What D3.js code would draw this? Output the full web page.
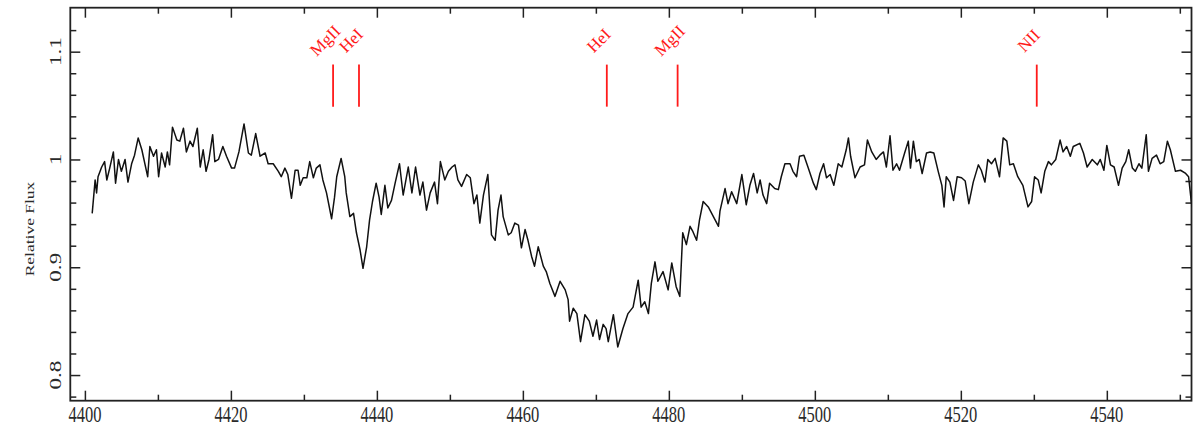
<!DOCTYPE html>
<html>
<head>
<meta charset="utf-8">
<script src="https://cdn.jsdelivr.net/npm/d3@7/dist/d3.min.js"></script>
<style>
body { margin: 0; background: #fff; }
svg text { font-family: "Liberation Serif", "Times New Roman", serif; }
</style>
</head>
<body>
<div id="graph"></div>
<script>
// spectrum (wavelength in Angstrom, relative flux)
const wavelength = [
	4401.0, 4401.4, 4401.6, 4401.8, 4402.3, 4402.7, 4403.0, 4403.4, 4403.9, 4404.2,
	4404.6, 4405.0, 4405.5, 4405.9, 4406.4, 4406.8, 4407.3, 4407.8, 4408.6, 4408.9,
	4409.4, 4409.8, 4410.1, 4410.5, 4411.0, 4411.3, 4411.6, 4412.0, 4412.6, 4413.0,
	4413.5, 4413.9, 4414.4, 4414.8, 4415.4, 4415.8, 4416.2, 4416.6, 4417.0, 4417.5,
	4417.8, 4418.3, 4418.9, 4419.4, 4420.1, 4420.5, 4421.1, 4421.8, 4422.4, 4422.8,
	4423.4, 4424.0, 4424.7, 4425.1, 4425.8, 4426.5, 4426.9, 4427.4, 4427.8, 4428.3,
	4428.8, 4429.2, 4429.5, 4429.9, 4430.4, 4430.8, 4431.3, 4431.7, 4432.2, 4432.6,
	4433.1, 4433.8, 4434.2, 4434.5, 4435.1, 4435.6, 4435.8, 4436.3, 4436.8, 4437.2,
	4437.7, 4438.1, 4438.6, 4439.0, 4439.4, 4439.9, 4440.3, 4440.6, 4441.1, 4441.5,
	4442.0, 4442.5, 4443.1, 4443.6, 4444.3, 4444.8, 4445.3, 4445.9, 4446.3, 4446.8,
	4447.3, 4447.9, 4448.3, 4448.7, 4449.3, 4449.8, 4450.3, 4450.7, 4451.1, 4451.6,
	4452.3, 4452.8, 4453.3, 4453.7, 4454.1, 4454.6, 4455.2, 4455.7, 4456.2, 4456.6,
	4457.0, 4457.3, 4458.0, 4458.4, 4458.9, 4459.4, 4459.8, 4460.3, 4460.7, 4461.2,
	4461.6, 4462.1, 4462.8, 4463.2, 4463.7, 4464.4, 4465.1, 4465.8, 4466.2, 4466.4,
	4466.9, 4467.4, 4467.9, 4468.5, 4469.1, 4469.6, 4470.1, 4470.5, 4471.0, 4471.4,
	4471.7, 4472.4, 4473.0, 4473.7, 4474.4, 4475.1, 4475.8, 4476.2, 4476.7, 4477.2,
	4477.6, 4478.1, 4478.5, 4479.2, 4479.9, 4480.4, 4481.0, 4481.5, 4481.9, 4482.4,
	4482.9, 4483.3, 4483.8, 4484.2, 4484.7, 4485.4, 4486.1, 4486.8, 4487.0, 4487.7,
	4488.1, 4488.6, 4489.3, 4490.0, 4490.6, 4491.1, 4491.6, 4492.1, 4492.5, 4492.9,
	4493.4, 4493.8, 4494.5, 4495.0, 4495.4, 4495.9, 4496.6, 4497.0, 4497.5, 4497.9,
	4498.5, 4499.1, 4499.8, 4500.2, 4500.7, 4501.2, 4501.6, 4502.1, 4502.6, 4503.2,
	4503.7, 4504.3, 4504.6, 4504.9, 4505.5, 4506.2, 4506.8, 4507.2, 4507.8, 4508.4,
	4508.9, 4509.4, 4509.8, 4510.3, 4510.7, 4511.2, 4511.6, 4512.3, 4512.8, 4513.1,
	4513.5, 4513.9, 4514.3, 4514.7, 4515.3, 4515.8, 4516.3, 4516.9, 4517.4, 4517.7,
	4518.0, 4518.5, 4519.0, 4519.5, 4520.1, 4520.6, 4521.1, 4521.7, 4522.4, 4522.8,
	4523.3, 4523.7, 4524.2, 4524.7, 4525.3, 4525.8, 4526.3, 4526.7, 4527.2, 4527.8,
	4528.5, 4529.2, 4529.7, 4530.1, 4530.6, 4531.0, 4531.5, 4532.0, 4532.4, 4533.0,
	4533.6, 4534.0, 4534.5, 4535.0, 4535.4, 4536.3, 4536.8, 4537.3, 4538.0, 4538.7,
	4539.1, 4539.6, 4540.0, 4540.5, 4541.0, 4541.6, 4542.1, 4542.6, 4543.0, 4543.5,
	4543.9, 4544.4, 4544.8, 4545.4, 4545.7, 4546.2, 4546.8, 4547.3, 4547.8, 4548.3,
	4548.7, 4549.4, 4550.1, 4550.8, 4551.2, 4551.6, 4552.2
];
const flux = [
	0.950, 0.981, 0.969, 0.984, 0.993, 0.998, 0.981, 0.992, 1.007, 0.978,
	1.000, 0.989, 1.000, 0.979, 0.996, 1.004, 1.020, 1.009, 0.984, 1.012,
	1.003, 1.009, 0.984, 1.006, 0.993, 1.007, 0.995, 1.030, 1.018, 1.017,
	1.029, 1.007, 1.017, 1.012, 1.029, 0.993, 1.009, 0.989, 1.000, 1.023,
	0.998, 1.000, 1.012, 1.003, 0.992, 0.992, 1.007, 1.033, 1.006, 1.004,
	1.024, 1.003, 1.006, 0.996, 0.996, 0.989, 0.984, 0.992, 0.986, 0.964,
	0.990, 0.990, 0.976, 0.983, 0.983, 0.998, 0.983, 0.992, 0.995, 0.981,
	0.969, 0.945, 0.965, 0.984, 1.001, 0.984, 0.969, 0.947, 0.950, 0.932,
	0.916, 0.899, 0.919, 0.944, 0.961, 0.978, 0.965, 0.949, 0.976, 0.955,
	0.962, 0.978, 0.996, 0.967, 0.993, 0.969, 0.993, 0.967, 0.979, 0.953,
	0.969, 0.979, 0.959, 0.998, 0.981, 0.989, 0.993, 0.995, 0.981, 0.975,
	0.986, 0.983, 0.959, 0.967, 0.941, 0.967, 0.986, 0.930, 0.925, 0.953,
	0.967, 0.947, 0.930, 0.932, 0.941, 0.939, 0.918, 0.935, 0.925, 0.910,
	0.901, 0.919, 0.901, 0.896, 0.885, 0.873, 0.887, 0.879, 0.870, 0.850,
	0.862, 0.857, 0.831, 0.856, 0.850, 0.836, 0.851, 0.833, 0.847, 0.843,
	0.831, 0.856, 0.826, 0.843, 0.857, 0.863, 0.888, 0.863, 0.868, 0.857,
	0.885, 0.905, 0.887, 0.896, 0.879, 0.904, 0.882, 0.873, 0.932, 0.921,
	0.938, 0.933, 0.925, 0.944, 0.961, 0.956, 0.947, 0.938, 0.952, 0.973,
	0.959, 0.970, 0.959, 0.986, 0.958, 0.976, 0.987, 0.969, 0.981, 0.967,
	0.959, 0.978, 0.973, 0.972, 0.984, 0.996, 0.996, 0.989, 0.984, 1.003,
	1.004, 0.992, 0.978, 0.972, 0.987, 0.996, 0.983, 0.986, 0.976, 0.996,
	0.993, 1.009, 1.020, 1.003, 0.983, 0.993, 0.995, 1.018, 1.007, 1.000,
	1.004, 1.007, 0.993, 1.022, 0.990, 0.996, 0.990, 1.006, 1.017, 0.992,
	1.017, 0.998, 1.000, 0.987, 1.006, 1.007, 1.006, 0.989, 0.976, 0.956,
	0.984, 0.979, 0.962, 0.984, 0.983, 0.980, 0.959, 0.979, 0.995, 0.990,
	0.979, 1.000, 0.996, 1.001, 0.984, 1.020, 1.017, 0.995, 0.996, 0.984,
	0.976, 0.956, 0.961, 0.984, 0.981, 0.969, 0.989, 0.998, 0.995, 1.000,
	1.018, 1.007, 1.012, 1.003, 1.012, 1.015, 1.006, 0.993, 1.000, 0.995,
	1.000, 0.990, 1.013, 0.995, 0.993, 0.976, 0.992, 0.998, 1.009, 0.992,
	0.989, 0.996, 0.992, 1.023, 0.989, 1.001, 1.004, 0.996, 0.998, 1.017,
	1.009, 0.989, 0.990, 0.987, 0.984, 0.959, 0.945
];

// identified lines
const lineNames = ["MgII", "HeI", "HeI", "MgII", "NII"];
const lineWaves = [4434.0, 4437.55, 4471.5, 4481.2, 4530.4];
const markTop = 1.088, markBottom = 1.049;

// axis ticks
const xTicks = [4400, 4420, 4440, 4460, 4480, 4500, 4520, 4540];
const xMinor = [4410, 4430, 4450, 4470, 4490, 4510, 4530, 4550];
const yTicks = [0.8, 0.9, 1, 1.1];
const yMinor = [0.78, 0.82, 0.84, 0.86, 0.88, 0.92, 0.94, 0.96, 0.98, 1.02, 1.04, 1.06, 1.08, 1.12];

const width = 1194, height = 429;
const margin = {top: 7.7, right: 2.5, bottom: 28.3, left: 70.3};
const stretch = 1.4; // the figure is taller than wide, text looks squeezed

const data = wavelength.map((w, i) => ({w: w, f: flux[i]}));

const x = d3.scaleLinear()
	.domain([4398, 4551.6])
	.range([margin.left, width - margin.right]);
const y = d3.scaleLinear()
	.domain([0.7762, 1.1408])
	.range([height - margin.bottom, margin.top]);

const svg = d3.select("#graph")
	.append("svg")
	.attr("width", width)
	.attr("height", height)
	.style("display", "block");

svg.append("clipPath")
	.attr("id", "plotClip")
	.append("rect")
	.attr("x", margin.left)
	.attr("y", margin.top)
	.attr("width", width - margin.left - margin.right)
	.attr("height", height - margin.top - margin.bottom);

// ticks (inward on all four sides)
function styleAxis(g) {
	g.select(".domain").remove();
	g.selectAll(".tick line").attr("stroke", "#222").attr("stroke-width", 1.5);
	g.selectAll(".tick text").remove();
}
const bottomY = height - margin.bottom, rightX = width - margin.right;

svg.append("g").attr("transform", `translate(0,${bottomY})`)
	.call(d3.axisBottom(x).tickValues(xTicks).tickSize(-10)).call(styleAxis);
svg.append("g").attr("transform", `translate(0,${bottomY})`)
	.call(d3.axisBottom(x).tickValues(xMinor).tickSize(-6)).call(styleAxis);
svg.append("g").attr("transform", `translate(0,${margin.top})`)
	.call(d3.axisTop(x).tickValues(xTicks).tickSize(-10)).call(styleAxis);
svg.append("g").attr("transform", `translate(0,${margin.top})`)
	.call(d3.axisTop(x).tickValues(xMinor).tickSize(-6)).call(styleAxis);
svg.append("g").attr("transform", `translate(${margin.left},0)`)
	.call(d3.axisLeft(y).tickValues(yTicks).tickSize(-10)).call(styleAxis);
svg.append("g").attr("transform", `translate(${margin.left},0)`)
	.call(d3.axisLeft(y).tickValues(yMinor).tickSize(-6)).call(styleAxis);
svg.append("g").attr("transform", `translate(${rightX},0)`)
	.call(d3.axisRight(y).tickValues(yTicks).tickSize(-10)).call(styleAxis);
svg.append("g").attr("transform", `translate(${rightX},0)`)
	.call(d3.axisRight(y).tickValues(yMinor).tickSize(-6)).call(styleAxis);

// frame
svg.append("rect")
	.attr("x", margin.left)
	.attr("y", margin.top)
	.attr("width", rightX - margin.left)
	.attr("height", bottomY - margin.top)
	.attr("fill", "none")
	.attr("stroke", "#222")
	.attr("stroke-width", 1.8);

// tick labels
svg.selectAll(".xlab")
	.data(xTicks)
	.enter().append("text")
	.attr("class", "xlab")
	.attr("transform", (d) => `translate(${x(d)},${bottomY + 21}) scale(1,${stretch})`)
	.attr("text-anchor", "middle")
	.attr("font-size", 16.5)
	.attr("fill", "#2a2a2a")
	.text((d) => d);

svg.selectAll(".ylab")
	.data(yTicks)
	.enter().append("text")
	.attr("class", "ylab")
	.attr("transform", (d) => `translate(61,${y(d)}) scale(1,${stretch}) rotate(-90)`)
	.attr("text-anchor", "middle")
	.attr("font-size", 16.5)
	.attr("fill", "#2a2a2a")
	.text((d) => d);

svg.append("text")
	.attr("transform", `translate(34,229) scale(1,${stretch}) rotate(-90)`)
	.attr("text-anchor", "middle")
	.attr("font-size", 12.5)
	.attr("fill", "#2a2a2a")
	.text("Relative Flux");

// spectrum
const line = d3.line()
	.x((d) => x(d.w))
	.y((d) => y(d.f));

svg.append("path")
	.datum(data)
	.attr("clip-path", "url(#plotClip)")
	.attr("fill", "none")
	.attr("stroke", "#111")
	.attr("stroke-width", 1.5)
	.attr("stroke-linejoin", "round")
	.attr("d", line);

// line identifications
const marks = lineWaves.map((w, i) => ({w: w, name: lineNames[i]}));

svg.selectAll(".mark")
	.data(marks)
	.enter().append("line")
	.attr("class", "mark")
	.attr("x1", (d) => x(d.w))
	.attr("x2", (d) => x(d.w))
	.attr("y1", y(markTop))
	.attr("y2", y(markBottom))
	.attr("stroke", "#ff1a1a")
	.attr("stroke-width", 1.8);

svg.selectAll(".markLabel")
	.data(marks)
	.enter().append("text")
	.attr("class", "markLabel")
	.attr("transform", (d) => `translate(${x(d.w) - 4},${y(markTop) - 20}) rotate(-45)`)
	.attr("text-anchor", "middle")
	.attr("font-size", 17)
	.attr("fill", "#ff1a1a")
	.text((d) => d.name);
</script>
</body>
</html>
